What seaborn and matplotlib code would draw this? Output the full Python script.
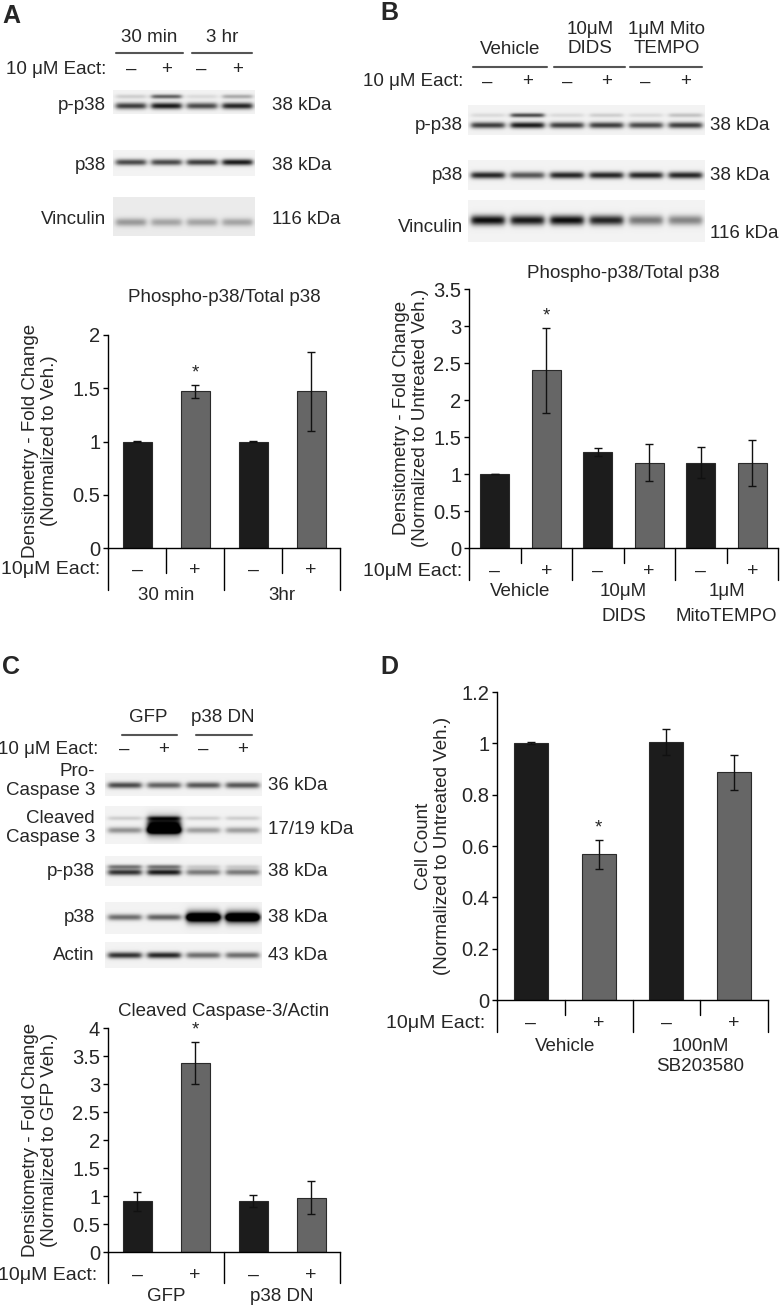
import numpy as np
import pandas as pd
import matplotlib
matplotlib.use('Agg')
import matplotlib.pyplot as plt
import seaborn as sns

sns.set_theme(style='white')
plt.rcParams['font.family'] = ['Liberation Sans', 'DejaVu Sans']
plt.rcParams['font.size'] = 13.5

W, H = 783, 1310
DARK = '#1c1c1c'
GRAY = '#666666'
FS = 13.5

# ---- densitometry / cell count data ----
eact_signs = ['–', '+', '–', '+']
eact_signs6 = ['–', '+', '–', '+', '–', '+']

a_groups = ['30 min', '3hr']
a_vals = [1.0, 1.47, 1.0, 1.47]
a_errs = [0.005, 0.06, 0.005, 0.37]

b_groups = ['Vehicle', '10μM\nDIDS', '1μM\nMitoTEMPO']
b_vals = [1.0, 2.40, 1.30, 1.15, 1.15, 1.15]
b_errs = [0.0, 0.575, 0.055, 0.25, 0.21, 0.31]

c_groups = ['GFP', 'p38 DN']
c_vals = [0.91, 3.375, 0.91, 0.97]
c_errs = [0.17, 0.37, 0.11, 0.29]

d_groups = ['Vehicle', '100nM\nSB203580']
d_vals = [1.0, 0.567, 1.005, 0.887]
d_errs = [0.004, 0.055, 0.052, 0.067]

# ---- western blot band intensities (per lane) ----
a_pp38_upper = [0.15, 0.6, 0.1, 0.3]
a_pp38_main = [0.75, 0.9, 0.7, 0.85]
a_p38 = [0.7, 0.7, 0.75, 0.9]
a_vinculin = [0.35, 0.3, 0.3, 0.3]

b_pp38_upper = [0.1, 0.7, 0.1, 0.15, 0.1, 0.2]
b_pp38_main = [0.75, 0.9, 0.75, 0.75, 0.7, 0.75]
b_p38 = [0.85, 0.65, 0.85, 0.85, 0.85, 0.85]
b_vinculin = [0.95, 0.9, 0.95, 0.85, 0.5, 0.45]

c_procasp = [0.7, 0.6, 0.65, 0.65]
c_cleaved_upper = [0.15, 0.5, 0.15, 0.15]
c_cleaved_main = [0.4, 1.0, 0.35, 0.35]
c_cleaved_blob = [0.0, 1.2, 0.0, 0.0]
c_pp38_upper = [0.5, 0.5, 0.15, 0.15]
c_pp38_main = [0.8, 0.9, 0.5, 0.5]
c_p38_main = [0.55, 0.6, 1.0, 1.0]
c_p38_blob = [0.0, 0.0, 1.0, 1.0]
c_actin = [0.8, 0.85, 0.55, 0.55]

fig = plt.figure(figsize=(W / 100, H / 100), dpi=100)


def px_axes(left, top, right, bottom):
    return fig.add_axes([left / W, 1 - bottom / H, (right - left) / W, (bottom - top) / H])


def ftext(x, y, s, **kw):
    kw.setdefault('fontsize', FS)
    kw.setdefault('va', 'center')
    fig.text(x / W, 1 - y / H, s, **kw)


def hline(x0, x1, y, color='#555555', lw=1.5):
    fig.add_artist(plt.Line2D([x0 / W, x1 / W], [1 - y / H, 1 - y / H], color=color, lw=lw))


# ---------------- blots ----------------
def blot_strip(left, top, right, bottom, bands, bg=0.95):
    ax = px_axes(left, top, right, bottom)
    w, h = (right - left) * 2, (bottom - top) * 2
    n = len(bands[0][2])
    xx = np.arange(w)[None, :] / 2.0
    yy = np.arange(h)[:, None] / 2.0
    lane_w = (right - left) / n
    dark = np.zeros((h, w))
    for yc, sig, inten in bands:
        vprof = np.exp(-0.5 * ((yy - yc) / sig) ** 2)
        for j, v in enumerate(inten):
            cx = (j + 0.5) * lane_w
            hprof = 1 / (1 + np.exp((np.abs(xx - cx) - 0.42 * lane_w) / 1.5))
            dark += v * vprof * hprof
    img = bg * (1 - np.clip(dark, 0, 1))
    ax.imshow(img, cmap='gray', vmin=0, vmax=1, aspect='auto', interpolation='bilinear')
    ax.axis('off')
    return [left + (j + 0.5) * lane_w for j in range(n)]


# Panel A blot
lanes = blot_strip(113, 90, 255, 114, [(7, 1.5, a_pp38_upper), (16, 2.2, a_pp38_main)])
blot_strip(113, 150, 255, 176, [(12, 2.2, a_p38)])
blot_strip(113, 197, 255, 236, [(25, 2.8, a_vinculin)], bg=0.92)
ftext(106, 106, 'p-p38', ha='right')
ftext(106, 165, 'p38', ha='right')
ftext(106, 220, 'Vinculin', ha='right')
ftext(272, 106, '38 kDa')
ftext(272, 165, '38 kDa')
ftext(272, 220, '116 kDa')
ftext(149, 38, '30 min', ha='center')
ftext(222, 38, '3 hr', ha='center')
hline(116, 183, 53)
hline(192, 252, 53)
ftext(106, 69, '10 μM Eact:', ha='right')
for x, s in zip(lanes, eact_signs):
    ftext(x, 69, s, ha='center')

# Panel B blot
lanes = blot_strip(468, 105, 705, 135, [(10, 1.5, b_pp38_upper), (20, 2.2, b_pp38_main)])
blot_strip(468, 160, 705, 190, [(15, 2.4, b_p38)])
blot_strip(468, 200, 705, 242, [(20, 3.5, b_vinculin)])
ftext(463, 125, 'p-p38', ha='right')
ftext(463, 175, 'p38', ha='right')
ftext(463, 228, 'Vinculin', ha='right')
ftext(710, 125, '38 kDa')
ftext(710, 175, '38 kDa')
ftext(710, 233, '116 kDa')
ftext(510, 50, 'Vehicle', ha='center')
ftext(590, 39, '10μM\nDIDS', ha='center', multialignment='center')
ftext(667, 39, '1μM Mito\nTEMPO', ha='center', multialignment='center')
hline(473, 547, 67)
hline(554, 625, 67)
hline(630, 702, 67)
ftext(463, 82, '10 μM Eact:', ha='right')
for x, s in zip(lanes, eact_signs6):
    ftext(x, 82, s, ha='center')

# Panel C blot
lanes = blot_strip(105, 773, 262, 796, [(12, 2.2, c_procasp)])
blot_strip(105, 806, 262, 844, [(12, 1.5, c_cleaved_upper), (24, 2.2, c_cleaved_main),
                                 (20, 6, c_cleaved_blob)])
blot_strip(105, 856, 262, 886, [(10.5, 1.5, c_pp38_upper), (16, 2.2, c_pp38_main)])
blot_strip(105, 902, 262, 934, [(15, 2.2, c_p38_main), (15, 4.5, c_p38_blob)])
blot_strip(105, 942, 262, 968, [(13, 2.2, c_actin)])
ftext(95, 781, 'Pro-\nCaspase 3', ha='right', multialignment='right')
ftext(95, 828, 'Cleaved\nCaspase 3', ha='right', multialignment='right')
ftext(95, 872, 'p-p38', ha='right')
ftext(95, 917, 'p38', ha='right')
ftext(95, 955, 'Actin', ha='right')
ftext(268, 785, '36 kDa')
ftext(268, 830, '17/19 kDa')
ftext(268, 872, '38 kDa')
ftext(268, 917, '38 kDa')
ftext(268, 955, '43 kDa')
ftext(148, 718, 'GFP', ha='center')
ftext(223, 718, 'p38 DN', ha='center')
hline(122, 177, 735)
hline(196, 252, 735)
ftext(98, 749, '10 μM Eact:', ha='right')
for x, s in zip(lanes, eact_signs):
    ftext(x, 749, s, ha='center')


# ---------------- bar charts ----------------
def bar_panel(box, vals, errs, signs, groups, ymax, step, bar_w, stars,
              short_div, long_px, short_px, sign_px, group_px, group_ls=1.2):
    ax = px_axes(*box)
    hgt = box[3] - box[1]
    n = len(vals)
    df = pd.DataFrame({'cond': list(range(n)), 'val': vals, 'eact': signs})
    sns.barplot(data=df, x='cond', y='val', hue='eact', palette={'–': DARK, '+': GRAY},
                width=bar_w, dodge=False, legend=False, edgecolor='#2a2a2a',
                linewidth=0.8, ax=ax)
    ax.errorbar(range(n), vals, yerr=errs, fmt='none', ecolor='#111111',
                elinewidth=1, capsize=3, capthick=1)
    ax.set_xlim(-0.5, n - 0.5)
    ax.set_ylim(0, ymax)
    ticks = np.arange(0, ymax + 1e-9, step)
    ax.set_yticks(ticks, [f'{t:g}' for t in ticks])
    ax.set_xticks([])
    ax.set_xlabel('')
    ax.set_ylabel('')
    for side in ['top', 'right']:
        ax.spines[side].set_visible(False)
    for side in ['left', 'bottom']:
        ax.spines[side].set_color('black')
        ax.spines[side].set_linewidth(1)
    ax.tick_params(axis='y', left=True, direction='out', length=3.6, width=1,
                   color='black', labelsize=14.5, pad=2)
    xt = ax.get_xaxis_transform()
    for k in range(n + 1):
        is_long = k % 2 == 0
        if not is_long and not short_div:
            continue
        depth = long_px if is_long else short_px
        ax.plot([k - 0.5, k - 0.5], [0, -depth / hgt], transform=xt, color='black',
                lw=1, clip_on=False)
    for i, s in enumerate(signs):
        ax.text(i, -sign_px / hgt, s, transform=xt, ha='center', va='center', fontsize=14)
    for g, lab in enumerate(groups):
        ax.text(2 * g + 0.5, -group_px / hgt, lab, transform=xt, ha='center', va='top',
                fontsize=FS, multialignment='center', linespacing=group_ls)
    for i in stars:
        ax.annotate('*', (i, vals[i] + errs[i]), xytext=(0, 12), textcoords='offset pixels',
                    ha='center', va='center', fontsize=FS)
    return ax


# Panel A chart
bar_panel((108, 335, 340, 548), a_vals, a_errs, eact_signs, a_groups, 2, 0.5, 0.5, [1],
          True, 42, 25, 22, 39)
ftext(224, 297, 'Phospho-p38/Total p38', ha='center')
ftext(40, 441, 'Densitometry - Fold Change\n(Normalized to Veh.)', ha='center',
      rotation=90, multialignment='center')
ftext(100, 570, '10μM Eact:', ha='right', fontsize=14)

# Panel B chart
bar_panel((469, 289, 778, 548), b_vals, b_errs, eact_signs6, b_groups, 3.5, 0.5, 0.56, [1],
          True, 32, 15, 23, 35, group_ls=1.65)
ftext(623, 273, 'Phospho-p38/Total p38', ha='center')
ftext(411, 418, 'Densitometry - Fold Change\n(Normalized to Untreated Veh.)', ha='center',
      rotation=90, multialignment='center')
ftext(462, 571, '10μM Eact:', ha='right', fontsize=14)

# Panel C chart
bar_panel((108, 1028, 340, 1252), c_vals, c_errs, eact_signs, c_groups, 4, 0.5, 0.5, [1],
          False, 31, 0, 23, 36)
ftext(224, 1012, 'Cleaved Caspase-3/Actin', ha='center')
ftext(40, 1140, 'Densitometry - Fold Change\n(Normalized to GFP Veh.)', ha='center',
      rotation=90, multialignment='center')
ftext(97, 1275, '10μM Eact:', ha='right', fontsize=14)

# Panel D chart
bar_panel((497, 692, 768, 1000), d_vals, d_errs, eact_signs, d_groups, 1.2, 0.2, 0.5, [1],
          True, 32, 15, 23, 38)
ftext(433, 846, 'Cell Count\n(Normalized to Untreated Veh.)', ha='center',
      rotation=90, multialignment='center')
ftext(485, 1023, '10μM Eact:', ha='right', fontsize=14)

# panel letters
ftext(2, 16, 'A', fontsize=18, fontweight='bold')
ftext(380, 13, 'B', fontsize=18, fontweight='bold')
ftext(2, 667, 'C', fontsize=18, fontweight='bold')
ftext(380, 667, 'D', fontsize=18, fontweight='bold')

fig.savefig('out.png', dpi=100, facecolor='white')
